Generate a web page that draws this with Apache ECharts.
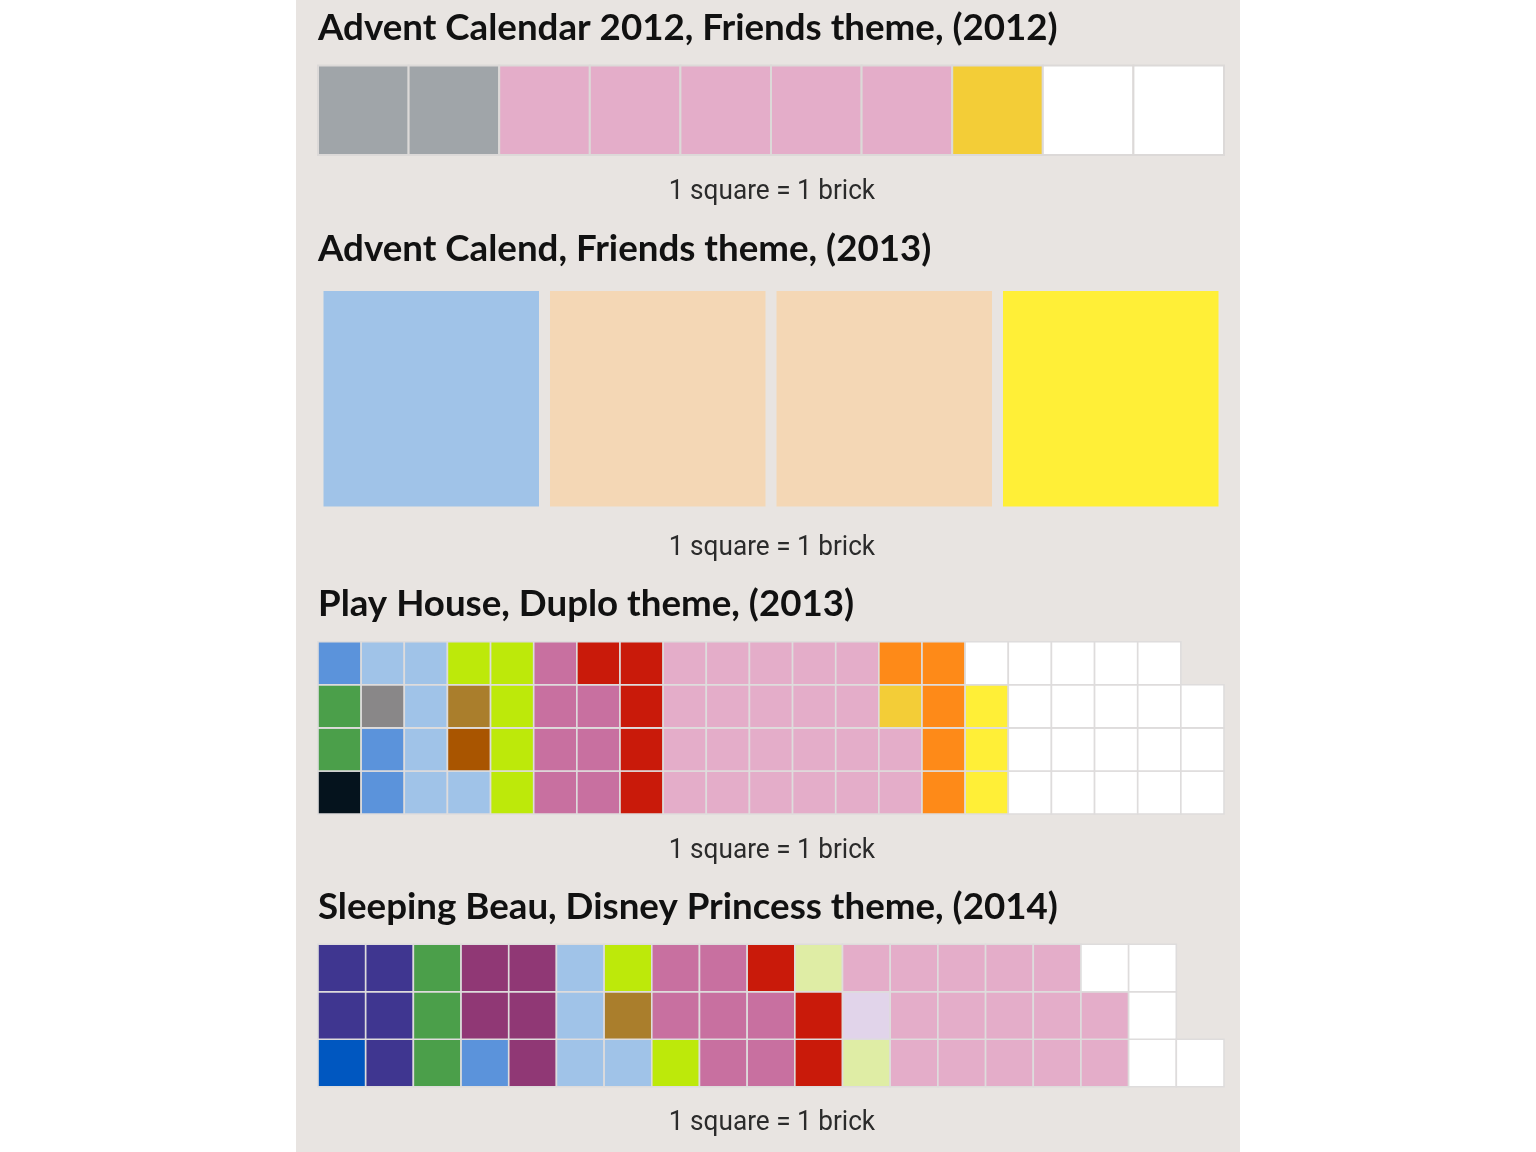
<!DOCTYPE html>
<html>
<head>
<meta charset="utf-8">
<script src="https://cdn.jsdelivr.net/npm/echarts@6/dist/echarts.min.js"></script>
<style>
html,body{margin:0;padding:0;background:#ffffff;}
#chart{width:1536px;height:1152px;}
</style>
</head>
<body>
<div id="chart"></div>
<script>
// ---------- DATA ----------
const titles = [
  'Advent Calendar 2012, Friends theme, (2012)',
  'Advent Calend, Friends theme, (2013)',
  'Play House, Duplo theme, (2013)',
  'Sleeping Beau, Disney Princess theme, (2014)'
];
const caption = '1 square = 1 brick';

// panel 1 : 1 row
const p1Colors = ['#A0A5A9', '#E4ADC9', '#F3CD37', '#FFFFFF'];
const p1Counts = [2, 5, 1, 2];
const p1Rows = 1;

// panel 2 : 1 row
const p2Colors = ['#A0C3E8', '#F4D7B5', '#FFEF37'];
const p2Counts = [1, 2, 1];
const p2Rows = 1;

// panel 3 : 4 rows
const p3Colors = ['#05131D', '#4B9F4A', '#5B93DB', '#898788', '#A0C3E8', '#A95500', '#AA7E2C',
                  '#BDE90A', '#C870A0', '#C91A0A', '#E4ADC9', '#F3CD37', '#FE8A18', '#FFEF37', '#FFFFFF'];
const p3Counts = [1, 2, 3, 1, 6, 1, 1, 5, 7, 5, 22, 1, 5, 3, 20];
const p3Rows = 4;

// panel 4 : 3 rows
const p4Colors = ['#0057C0', '#3F3690', '#4B9F4A', '#5B93DB', '#903875', '#A0C3E8', '#AA7E2C',
                  '#BDE90A', '#C870A0', '#C91A0A', '#DFEDA5', '#E1D4EA', '#E4ADC9', '#FFFFFF'];
const p4Counts = [1, 5, 3, 1, 5, 4, 1, 2, 7, 3, 2, 1, 15, 5];
const p4Rows = 3;

// ---------- BUILD ----------
function buildCells(counts, rows) {
  const cells = [];
  let i = 0;
  counts.forEach((n, ci) => {
    for (let k = 0; k < n; k++) {
      cells.push([Math.floor(i / rows), i % rows, ci]);
      i++;
    }
  });
  return cells;
}

const panels = [
  {colors: p1Colors, counts: p1Counts, rows: p1Rows, top: 65.5, height: 89.5, inset: 0, stroke: '#DCD9D8', lw: 2,
   titleY: 28, capY: 191.5},
  {colors: p2Colors, counts: p2Counts, rows: p2Rows, top: 285.5, height: 226.5, inset: 5.5, stroke: null, lw: 0,
   titleY: 249, capY: 547.5},
  {colors: p3Colors, counts: p3Counts, rows: p3Rows, top: 641.7, height: 172.3, inset: 0, stroke: '#DEDCDC', lw: 1.6,
   titleY: 604, capY: 850.5},
  {colors: p4Colors, counts: p4Counts, rows: p4Rows, top: 944.3, height: 142.4, inset: 0, stroke: '#DEDCDC', lw: 1.6,
   titleY: 907, capY: 1122.5}
];

const gridLeft = 318, gridWidth = 906;
const grids = [], xAxes = [], yAxes = [], series = [], graphics = [];

graphics.push({type: 'rect', z: -10, silent: true,
  shape: {x: 296, y: 0, width: 944, height: 1152}, style: {fill: '#E8E4E1'}});

panels.forEach((p, pi) => {
  const cells = buildCells(p.counts, p.rows);
  const nCols = Math.ceil(cells.length / p.rows);
  grids.push({left: gridLeft, width: gridWidth, top: p.top, height: p.height, containLabel: false});
  xAxes.push({gridIndex: pi, type: 'category', data: Array.from({length: nCols}, (_, k) => k),
    show: false, boundaryGap: true});
  yAxes.push({gridIndex: pi, type: 'category', data: Array.from({length: p.rows}, (_, k) => k),
    show: false, boundaryGap: true});
  series.push({
    type: 'custom', xAxisIndex: pi, yAxisIndex: pi, silent: true,
    data: cells,
    renderItem: function (params, api) {
      const c = api.coord([api.value(0), api.value(1)]);
      const s = api.size([1, 1]);
      const ins = p.inset;
      const style = {fill: p.colors[api.value(2)]};
      if (p.stroke) { style.stroke = p.stroke; style.lineWidth = p.lw; }
      return {
        type: 'rect',
        shape: {x: c[0] - s[0] / 2 + ins, y: c[1] - s[1] / 2 + ins, width: s[0] - 2 * ins, height: s[1] - 2 * ins},
        style: style
      };
    }
  });
  graphics.push({type: 'text', x: 318, y: p.titleY, silent: true,
    style: {text: titles[pi], font: 'bold 36.7px Lato', fill: '#111111', textAlign: 'left', textVerticalAlign: 'middle'}});
  graphics.push({type: 'text', x: 772, y: p.capY, scaleX: 0.935, silent: true,
    style: {text: caption, x: 0, y: 0, font: '28px Roboto', fill: '#2B2B2B', textAlign: 'center', textVerticalAlign: 'middle'}});
});

const chart = echarts.init(document.getElementById('chart'), null, {renderer: 'canvas'});
chart.setOption({
  animation: false,
  backgroundColor: '#ffffff',
  grid: grids,
  xAxis: xAxes,
  yAxis: yAxes,
  series: series,
  graphic: graphics
});
</script>
</body>
</html>
